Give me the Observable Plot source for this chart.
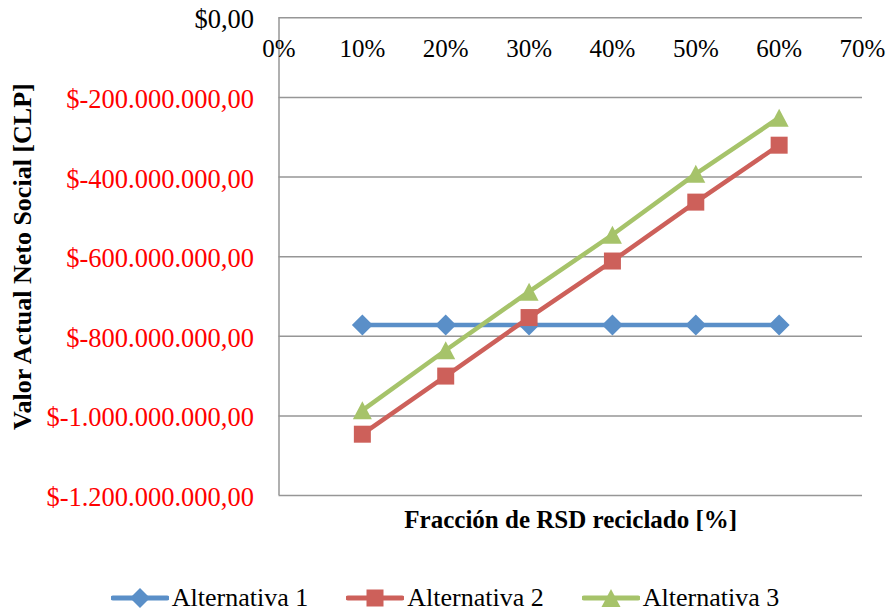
<!DOCTYPE html>
<html>
<head>
<meta charset="utf-8">
<script src="https://cdn.jsdelivr.net/npm/d3@7"></script>
<script src="https://cdn.jsdelivr.net/npm/@observablehq/plot@0.6"></script>
<style>
  body { margin: 0; background: #fff; font-family: "Times New Roman", "Liberation Serif", "DejaVu Serif", serif; }
  #chart svg { display: block; }
  #legend { display: flex; justify-content: center; align-items: center; gap: 38px; height: 38px; padding-top: 4px; font-size: 26px; color: #000; }
  .item { display: flex; align-items: center; gap: 3px; }
</style>
</head>
<body>
<div id="chart"></div>
<div id="legend"></div>
<script>
const fractions = [0.1, 0.2, 0.3, 0.4, 0.5, 0.6];
const series = ["Alternativa 1", "Alternativa 2", "Alternativa 3"];
const alt1 = [-772e6, -772e6, -772e6, -772e6, -772e6, -772e6];
const alt2 = [-1046e6, -900e6, -753e6, -611e6, -463e6, -320e6];
const alt3 = [-986e6, -835e6, -688e6, -545e6, -392e6, -251e6];
const xTicks = [0, 0.1, 0.2, 0.3, 0.4, 0.5, 0.6, 0.7];
const yTicks = [0, -200e6, -400e6, -600e6, -800e6, -1000e6, -1200e6];
const colors = ["#5A8FC8", "#CD605A", "#A6C36A"];
const xTitle = "Fracción de RSD reciclado [%]";
const yTitle = "Valor Actual Neto Social [CLP]";

const data = [];
[alt1, alt2, alt3].forEach((vals, i) => vals.forEach((v, j) => data.push({serie: series[i], x: fractions[j], y: v})));

const diamond = { draw(ctx, size) { const h = Math.sqrt(size / Math.PI); ctx.moveTo(0, -h); ctx.lineTo(h, 0); ctx.lineTo(0, h); ctx.lineTo(-h, 0); ctx.closePath(); } };
const square = { draw(ctx, size) { const h = Math.sqrt(size / Math.PI); ctx.rect(-h, -h, 2 * h, 2 * h); } };
const triangle = { draw(ctx, size) { const h = Math.sqrt(size / Math.PI); ctx.moveTo(0, -h * 0.95); ctx.lineTo(h, h * 0.95); ctx.lineTo(-h, h * 0.95); ctx.closePath(); } };
const symbols = [diamond, square, triangle];
const radii = [10.5, 8.5, 9.5];

const intFmt = d3.formatLocale({decimal: ",", thousands: ".", grouping: [3]}).format(",.2f");
const yFmt = v => "$" + (v < 0 ? "-" : "") + intFmt(Math.abs(v));
const xFmt = v => Math.round(v * 100) + "%";

const FONT = "'Times New Roman', 'Liberation Serif', 'DejaVu Serif', serif";

const marks = [
  Plot.ruleY(yTicks, {stroke: "#969696", strokeWidth: 1.5}),
  Plot.ruleX([0], {stroke: "#969696", strokeWidth: 1.5}),
  Plot.text(xTicks, {x: d => d, y: 0, text: xFmt, dy: 31, fontSize: 25, fill: "#000", lineAnchor: "middle"}),
  Plot.text(yTicks, {y: d => d, frameAnchor: "left", textAnchor: "end", dx: -25, dy: 2, text: yFmt, fontSize: 26.5, fill: d => d === 0 ? "#000" : "#FF0000", lineAnchor: "middle"}),
  Plot.text([xTitle], {frameAnchor: "bottom", dy: 24, text: d => d, fontSize: 25, fontWeight: "bold", fill: "#000", lineAnchor: "middle"}),
  Plot.text([yTitle], {frameAnchor: "left", textAnchor: "middle", dx: -256, rotate: -90, text: d => d, fontSize: 26, fontWeight: "bold", fill: "#000", lineAnchor: "middle"})
];
series.forEach((s, i) => {
  const d = data.filter(e => e.serie === s);
  marks.push(Plot.line(d, {x: "x", y: "y", stroke: colors[i], strokeWidth: 4.5}));
  marks.push(Plot.dot(d, {x: "x", y: "y", fill: colors[i], stroke: "none", r: radii[i], symbol: symbols[i]}));
});

const chart = Plot.plot({
  width: 890,
  height: 575,
  marginLeft: 278.5,
  marginRight: 28,
  marginTop: 17.3,
  marginBottom: 80,
  style: {fontFamily: FONT, background: "#fff"},
  x: {domain: [0, 0.7], axis: null},
  y: {domain: [-1.2e9, 0], axis: null},
  marks
});
document.getElementById("chart").appendChild(chart);

// legend
const legend = document.getElementById("legend");
const shapes = [
  c => `<polygon points="29,1 39,11 29,21 19,11" fill="${c}"/>`,
  c => `<rect x="20.5" y="2.5" width="17" height="17" fill="${c}"/>`,
  c => `<polygon points="29,2 38.5,20 19.5,20" fill="${c}"/>`
];
series.forEach((s, i) => {
  const item = document.createElement("div");
  item.className = "item";
  item.innerHTML = `<svg width="58" height="22" viewBox="0 0 58 22"><line x1="2" y1="11" x2="56" y2="11" stroke="${colors[i]}" stroke-width="5" stroke-linecap="round"/>${shapes[i](colors[i])}</svg><span>${s}</span>`;
  legend.appendChild(item);
});
</script>
</body>
</html>
